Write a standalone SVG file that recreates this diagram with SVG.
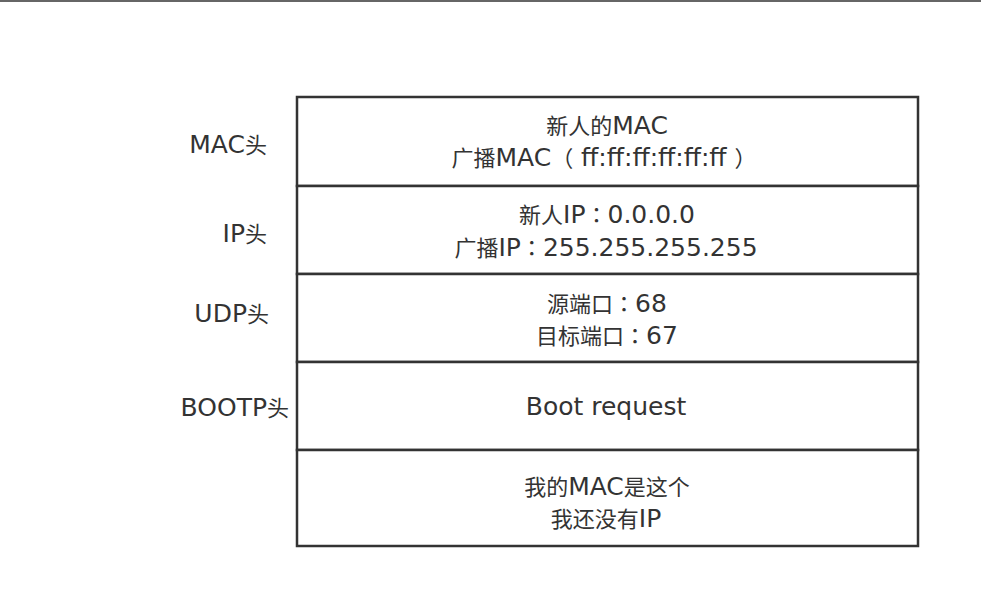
<svg xmlns="http://www.w3.org/2000/svg" width="981" height="605" viewBox="0 0 981 605">
  <style>
    .bg { fill: #ffffff; }
    .topline { fill: #666666; }
    .cell { fill: #ffffff; stroke: #333333; stroke-width: 2.5; }
    .t { font-family: "DejaVu Sans", "Noto Sans CJK SC", sans-serif; font-size: 25px; fill: #333333; }
    .c { font-family: "Noto Sans CJK SC", sans-serif; font-size: 22px; }
    .p { font-family: "Noto Sans CJK TC", sans-serif; font-size: 22px; }
    .lbl { text-anchor: end; }
    .mid { text-anchor: middle; }
  </style>
  <rect class="bg" x="0" y="0" width="981" height="605"/>
  <rect class="topline" x="0" y="0" width="981" height="2"/>

  <g id="label-mac"><text class="t lbl" x="267" y="153">MAC<tspan class="c">头</tspan></text></g>
  <g id="label-ip"><text class="t lbl" x="267" y="242">IP<tspan class="c">头</tspan></text></g>
  <g id="label-udp"><text class="t lbl" x="269" y="322">UDP<tspan class="c">头</tspan></text></g>
  <g id="label-bootp"><text class="t lbl" x="289" y="416">BOOTP<tspan class="c">头</tspan></text></g>

  <g id="row-mac">
    <rect class="cell" x="297" y="97" width="621" height="89"/>
    <text class="t mid" x="607" y="134"><tspan class="c">新人的</tspan>MAC</text>
    <text class="t mid" x="604" y="166"><tspan class="c">广播</tspan>MAC<tspan class="p">（</tspan> ff:ff:ff:ff:ff:ff <tspan class="p">）</tspan></text>
  </g>
  <g id="row-ip">
    <rect class="cell" x="297" y="186" width="621" height="88"/>
    <text class="t mid" x="607" y="223"><tspan class="c">新人</tspan>IP<tspan class="p">：</tspan>0.0.0.0</text>
    <text class="t mid" x="606" y="256"><tspan class="c">广播</tspan>IP<tspan class="p">：</tspan>255.255.255.255</text>
  </g>
  <g id="row-udp">
    <rect class="cell" x="297" y="274" width="621" height="88"/>
    <text class="t mid" x="607" y="312"><tspan class="c">源端口</tspan><tspan class="p">：</tspan>68</text>
    <text class="t mid" x="607" y="344"><tspan class="c">目标端口</tspan><tspan class="p">：</tspan>67</text>
  </g>
  <g id="row-bootp">
    <rect class="cell" x="297" y="362" width="621" height="88"/>
    <text class="t mid" x="606" y="415">Boot request</text>
  </g>
  <g id="row-payload">
    <rect class="cell" x="297" y="450" width="621" height="96"/>
    <text class="t mid" x="607" y="495"><tspan class="c">我的</tspan>MAC<tspan class="c">是这个</tspan></text>
    <text class="t mid" x="606" y="527"><tspan class="c">我还没有</tspan>IP</text>
  </g>
</svg>
